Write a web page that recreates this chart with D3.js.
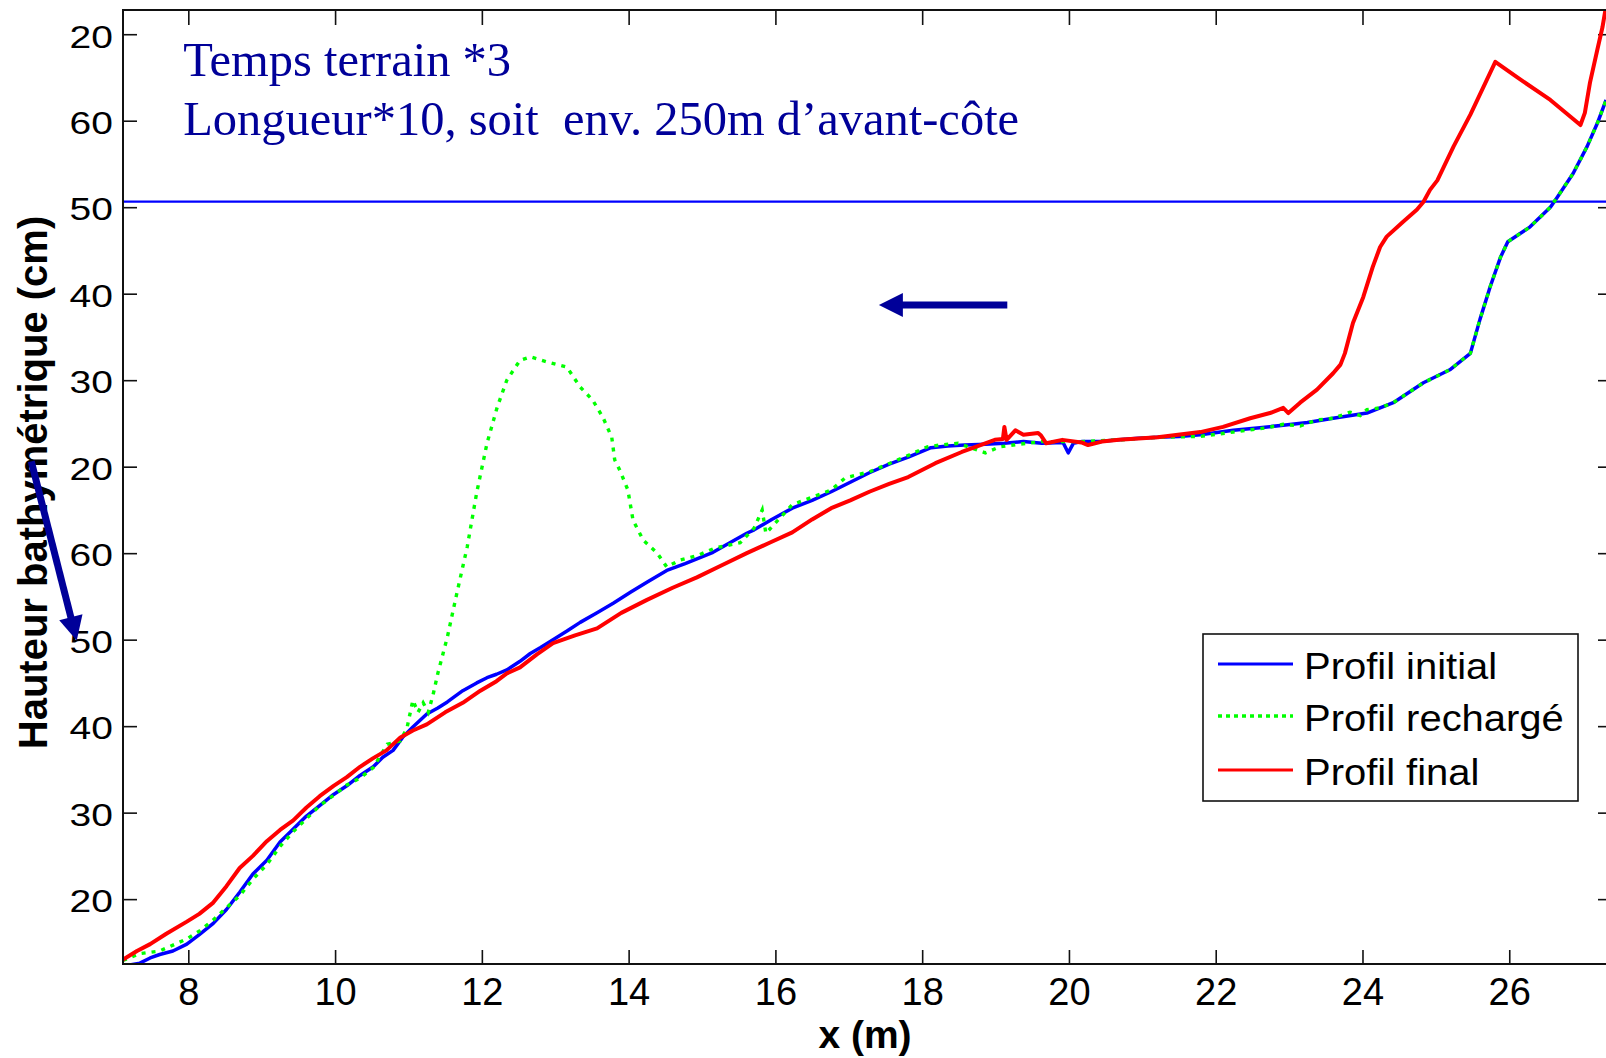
<!DOCTYPE html>
<html>
<head>
<meta charset="utf-8">
<script src="https://cdn.jsdelivr.net/npm/d3@7"></script>
<style>
    body { margin: 0; background: #fff; }
    svg { display: block; }
</style>
</head>
<body>
<div id="chart"></div>
<script>
// Tick values and labels (the y labels repeat as printed on the original)
const xTicks = [8, 10, 12, 14, 16, 18, 20, 22, 24, 26];
const yTicks = [20, 30, 40, 50, 60, 70, 80, 90, 100, 110, 120];
const yTickLabels = ['20', '30', '40', '50', '60', '20', '30', '40', '50', '60', '20'];

// Water level
const waterLevel = 100.65;

// Profil initial [x (m), hauteur]
const profilInitial = [
    [7.20, 12.4], [7.34, 12.6], [7.48, 13.2], [7.61, 13.6], [7.79, 14.0], [7.98, 14.8], [8.15, 15.9],
    [8.34, 17.2], [8.52, 18.8], [8.70, 20.8], [8.88, 22.9], [9.07, 24.5], [9.25, 26.6], [9.43, 28.1],
    [9.61, 29.6], [9.79, 30.8], [9.98, 32.1], [10.16, 33.1], [10.34, 34.3], [10.52, 35.3], [10.65, 36.4],
    [10.79, 37.2], [10.92, 38.7], [11.06, 39.9], [11.25, 41.4], [11.40, 42.1], [11.53, 42.8], [11.74, 44.1],
    [11.93, 45.0], [12.07, 45.6], [12.20, 46.0], [12.34, 46.5], [12.52, 47.5], [12.66, 48.4], [12.80, 49.1],
    [12.97, 50.0], [13.16, 51.0], [13.34, 52.0], [13.57, 53.1], [13.79, 54.2], [14.03, 55.5], [14.26, 56.7],
    [14.52, 58.0], [14.77, 58.8], [15.15, 60.1], [15.38, 61.2], [15.61, 62.3], [15.71, 62.7], [15.95, 63.9],
    [16.23, 65.2], [16.50, 66.1], [16.76, 67.1], [17.02, 68.2], [17.28, 69.3], [17.55, 70.3], [17.81, 71.1],
    [18.12, 72.2], [18.35, 72.4], [18.58, 72.5], [18.86, 72.6], [19.12, 72.7], [19.38, 72.9], [19.63, 72.7],
    [19.92, 72.8], [19.99, 71.6], [20.06, 72.7], [20.17, 72.9], [20.42, 72.9], [20.68, 73.1], [20.95, 73.3],
    [21.21, 73.4], [21.50, 73.5], [21.79, 73.7], [22.24, 74.2], [22.60, 74.5], [22.92, 74.8], [23.25, 75.1],
    [23.60, 75.6], [24.06, 76.2], [24.42, 77.4], [24.83, 79.7], [25.19, 81.2], [25.47, 83.1], [25.60, 87.0],
    [25.74, 90.8], [25.88, 94.2], [25.98, 96.0], [26.28, 97.7], [26.56, 100.0], [26.65, 101.1], [26.87, 103.9],
    [27.06, 107.0], [27.20, 109.7], [27.32, 112.4]
];

// Profil rechargé
const profilRecharge = [
    [7.11, 12.9], [7.34, 13.7], [7.61, 14.0], [7.98, 15.4], [8.15, 16.3], [8.34, 17.6], [8.52, 19.0],
    [8.70, 20.4], [8.88, 22.3], [9.07, 24.0], [9.25, 26.1], [9.43, 27.8], [9.61, 29.3], [9.79, 30.8],
    [9.98, 32.0], [10.16, 33.2], [10.34, 34.0], [10.52, 35.2], [10.71, 37.9], [10.89, 38.3], [10.98, 39.8],
    [11.06, 43.0], [11.13, 41.6], [11.20, 42.7], [11.27, 41.6], [11.34, 43.8], [11.40, 46.1], [11.53, 50.3],
    [11.66, 55.4], [11.80, 60.7], [11.93, 67.0], [12.07, 72.7], [12.21, 76.9], [12.34, 80.0], [12.52, 82.3],
    [12.66, 82.7], [12.89, 82.1], [13.16, 81.5], [13.34, 79.2], [13.51, 77.7], [13.65, 75.7], [13.77, 73.4],
    [13.81, 70.8], [13.88, 69.6], [13.99, 67.3], [14.06, 63.8], [14.20, 61.5], [14.39, 60.0], [14.52, 58.4],
    [14.70, 59.2], [14.93, 59.7], [15.18, 60.6], [15.52, 61.2], [15.71, 62.9], [15.82, 65.0], [15.87, 62.3],
    [16.23, 65.6], [16.76, 67.3], [16.95, 68.7], [17.28, 69.4], [17.56, 70.4], [17.81, 71.3], [18.07, 72.3],
    [18.24, 72.5], [18.49, 72.7], [18.86, 71.6], [19.06, 72.3], [19.33, 72.6], [19.63, 72.9], [20.17, 72.9],
    [20.68, 73.1], [21.21, 73.4], [21.79, 73.5], [22.24, 74.0], [22.70, 74.5], [22.92, 74.9], [23.15, 74.7],
    [23.38, 75.4], [23.60, 75.6], [23.83, 76.3], [23.97, 75.9], [24.06, 76.6], [24.24, 76.8], [24.42, 77.4],
    [24.83, 79.7], [25.19, 81.2], [25.47, 83.1], [25.60, 87.0], [25.74, 90.8], [25.88, 94.2], [25.98, 96.0],
    [26.28, 97.7], [26.56, 100.0], [26.65, 101.1], [26.87, 103.9], [27.06, 107.0], [27.20, 109.7], [27.32, 112.4]
];

// Profil final
const profilFinal = [
    [7.11, 13.0], [7.30, 14.0], [7.48, 14.8], [7.70, 16.0], [7.98, 17.4], [8.15, 18.3], [8.34, 19.6],
    [8.52, 21.5], [8.70, 23.6], [8.88, 25.0], [9.07, 26.7], [9.25, 28.0], [9.43, 29.1], [9.61, 30.6],
    [9.79, 31.9], [9.98, 33.1], [10.16, 34.1], [10.34, 35.3], [10.52, 36.3], [10.70, 37.2], [10.89, 38.7],
    [11.06, 39.5], [11.25, 40.2], [11.50, 41.6], [11.74, 42.7], [11.98, 44.1], [12.20, 45.2], [12.34, 46.1],
    [12.52, 46.8], [12.75, 48.3], [12.97, 49.6], [13.27, 50.5], [13.57, 51.3], [13.90, 53.1], [14.25, 54.6],
    [14.60, 56.0], [14.93, 57.2], [15.27, 58.6], [15.61, 60.0], [15.92, 61.2], [16.23, 62.4], [16.50, 63.9],
    [16.76, 65.2], [17.02, 66.1], [17.28, 67.1], [17.55, 68.0], [17.81, 68.8], [18.18, 70.4], [18.54, 71.7],
    [18.86, 72.7], [18.99, 73.1], [19.10, 73.2], [19.12, 74.6], [19.15, 73.1], [19.27, 74.2], [19.38, 73.7],
    [19.58, 73.9], [19.62, 73.6], [19.69, 72.7], [19.91, 73.1], [20.17, 72.8], [20.26, 72.5], [20.45, 72.9],
    [20.68, 73.1], [21.21, 73.4], [21.79, 74.0], [22.10, 74.6], [22.47, 75.6], [22.74, 76.2], [22.92, 76.8],
    [22.99, 76.2], [23.15, 77.4], [23.38, 78.9], [23.60, 80.8], [23.70, 81.8], [23.76, 83.1], [23.87, 86.6],
    [24.01, 89.6], [24.14, 93.1], [24.24, 95.4], [24.33, 96.6], [24.55, 98.3], [24.74, 99.7], [24.83, 100.6],
    [24.92, 102.0], [25.02, 103.1], [25.24, 107.0], [25.47, 110.7], [25.81, 116.8], [26.11, 115.0],
    [26.56, 112.4], [26.97, 109.5], [27.03, 110.9], [27.10, 114.4], [27.20, 118.2], [27.27, 120.8], [27.31, 122.8]
];

const seriesNames = ['Profil initial', 'Profil rechargé', 'Profil final'];
const seriesColors = ['#0000ff', '#00ff00', '#ff0000'];

// Annotations (in data units)
const noteLines = ['Temps terrain *3', 'Longueur*10, soit  env. 250m d\u2019avant-côte'];
const noteX = 7.93;
const noteY = [115.2, 108.4];
const arrows = [
    { x1: 19.16, y1: 88.7, x2: 17.41, y2: 88.7 },
    { x1: 5.86, y1: 70.6, x2: 6.48, y2: 49.9 }
];

const width = 1606;
const height = 1058;
const plot = { left: 123, top: 10, right: 1612, bottom: 964 };

const svg = d3.select('#chart')
    .append('svg')
    .attr('width', width)
    .attr('height', height);

const xScale = d3.scaleLinear()
    .domain([7.11, 27.40])
    .range([plot.left, plot.right]);

const yScale = d3.scaleLinear()
    .domain([12.5, 122.8])
    .range([plot.bottom, plot.top]);

svg.append('defs')
    .append('clipPath')
    .attr('id', 'plot-clip')
    .append('rect')
    .attr('x', plot.left)
    .attr('y', plot.top)
    .attr('width', plot.right - plot.left)
    .attr('height', plot.bottom - plot.top);

const sansFont = '"Liberation Sans", Arial, sans-serif';
const serifFont = '"Liberation Serif", "Times New Roman", serif';

// Axes (ticks pointing inward, MATLAB style)
const xAxis = svg.append('g')
    .attr('transform', `translate(0,${plot.bottom})`)
    .call(d3.axisBottom(xScale).tickValues(xTicks).tickSizeInner(-14).tickSizeOuter(0).tickPadding(14));

xAxis.selectAll('text')
    .style('font-family', sansFont)
    .style('font-size', '38px')
    .attr('fill', '#000');

svg.append('g')
    .attr('transform', `translate(0,${plot.top})`)
    .call(d3.axisTop(xScale).tickValues(xTicks).tickSizeInner(-15).tickSizeOuter(0).tickFormat(''));

const yAxis = svg.append('g')
    .attr('transform', `translate(${plot.left},0)`)
    .call(d3.axisLeft(yScale).tickValues(yTicks).tickSizeInner(-14).tickSizeOuter(0).tickPadding(10)
        .tickFormat((d, i) => yTickLabels[i]));

yAxis.selectAll('text')
    .style('font-family', sansFont)
    .style('font-size', '39px')
    .attr('fill', '#000')
    .attr('dy', '0.40em')
    .attr('transform', 'scale(1,0.82)');

svg.append('g')
    .attr('transform', `translate(${plot.right},0)`)
    .call(d3.axisRight(yScale).tickValues(yTicks).tickSizeInner(-14).tickSizeOuter(0).tickFormat(''));

svg.selectAll('.domain').remove();
svg.selectAll('.tick line').attr('stroke', '#111').attr('stroke-width', 1.6);

// Water level line
svg.append('line')
    .attr('x1', plot.left)
    .attr('x2', plot.right)
    .attr('y1', yScale(waterLevel))
    .attr('y2', yScale(waterLevel))
    .attr('stroke', '#0000ff')
    .attr('stroke-width', 2.2);

// Profiles
const line = d3.line()
    .x(d => xScale(d[0]))
    .y(d => yScale(d[1]));

const lines = svg.append('g').attr('clip-path', 'url(#plot-clip)');

lines.append('path')
    .datum(profilInitial)
    .attr('d', line)
    .attr('fill', 'none')
    .attr('stroke', seriesColors[0])
    .attr('stroke-width', 3.5)
    .attr('stroke-linejoin', 'round');

lines.append('path')
    .datum(profilRecharge)
    .attr('d', line)
    .attr('fill', 'none')
    .attr('stroke', seriesColors[1])
    .attr('stroke-width', 3.4)
    .attr('stroke-dasharray', '4,6');

lines.append('path')
    .datum(profilFinal)
    .attr('d', line)
    .attr('fill', 'none')
    .attr('stroke', seriesColors[2])
    .attr('stroke-width', 4)
    .attr('stroke-linejoin', 'round');

// Frame
svg.append('rect')
    .attr('x', plot.left)
    .attr('y', plot.top)
    .attr('width', plot.right - plot.left)
    .attr('height', plot.bottom - plot.top)
    .attr('fill', 'none')
    .attr('stroke', '#111')
    .attr('stroke-width', 2);

// Axis titles
svg.append('text')
    .attr('transform', `translate(47,${(213 + 752) / 2}) rotate(-90)`)
    .attr('text-anchor', 'middle')
    .style('font-family', sansFont)
    .style('font-size', '40px')
    .style('font-weight', 'bold')
    .text('Hauteur bathymétrique (cm)');

svg.append('text')
    .attr('x', 865)
    .attr('y', 1048)
    .attr('text-anchor', 'middle')
    .style('font-family', sansFont)
    .style('font-size', '39px')
    .style('font-weight', 'bold')
    .text('x (m)');

// Notes
svg.selectAll('.note')
    .data(noteLines)
    .enter()
    .append('text')
    .attr('class', 'note')
    .attr('x', xScale(noteX))
    .attr('y', (d, i) => yScale(noteY[i]))
    .style('font-family', serifFont)
    .style('font-size', '48.5px')
    .style('white-space', 'pre')
    .attr('fill', '#000099')
    .text(d => d);

// Arrows
arrows.forEach(a => {
    const x1 = xScale(a.x1), y1 = yScale(a.y1);
    const x2 = xScale(a.x2), y2 = yScale(a.y2);
    const len = Math.hypot(x2 - x1, y2 - y1);
    const ux = (x2 - x1) / len, uy = (y2 - y1) / len;
    const headLen = 24, headHalf = 12;
    const bx = x2 - ux * headLen, by = y2 - uy * headLen;
    svg.append('line')
        .attr('x1', x1).attr('y1', y1)
        .attr('x2', bx + ux * 2).attr('y2', by + uy * 2)
        .attr('stroke', '#000099')
        .attr('stroke-width', 7);
    svg.append('path')
        .attr('d', `M${x2},${y2}L${bx - uy * headHalf},${by + ux * headHalf}L${bx + uy * headHalf},${by - ux * headHalf}Z`)
        .attr('fill', '#000099');
});

// Legend
const legend = svg.append('g').attr('transform', 'translate(1203,634)');

legend.append('rect')
    .attr('width', 375)
    .attr('height', 167)
    .attr('fill', '#fff')
    .attr('stroke', '#111')
    .attr('stroke-width', 1.6);

const legendRows = [45, 97, 151];

seriesNames.forEach((name, i) => {
    legend.append('line')
        .attr('x1', 15)
        .attr('x2', 90)
        .attr('y1', legendRows[i] - 15)
        .attr('y2', legendRows[i] - 15)
        .attr('stroke', seriesColors[i])
        .attr('stroke-width', i === 1 ? 3.4 : 3)
        .attr('stroke-dasharray', i === 1 ? '4,4' : null);
    legend.append('text')
        .attr('transform', `translate(101,${legendRows[i]}) scale(1.08,1)`)
        .style('font-family', sansFont)
        .style('font-size', '37px')
        .attr('fill', '#000')
        .text(name);
});
</script>
</body>
</html>
